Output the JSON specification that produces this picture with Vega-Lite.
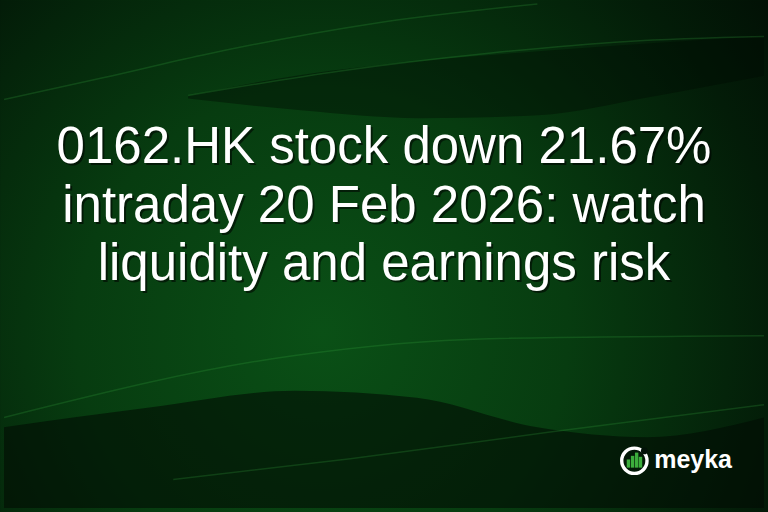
{
  "$schema": "https://vega.github.io/schema/vega-lite/v6.json",
  "width": 768,
  "height": 512,
  "autosize": {"type": "fit", "contains": "padding"},
  "padding": 0,
  "background": "#021006",
  "config": {"view": {"stroke": null, "fill": null}, "axis": {"disable": true}},
  "datasets": {
    "wedge": [
      {"x": 186, "yt": 93, "yb": 96},
      {"x": 300, "yt": 72, "yb": 108},
      {"x": 420, "yt": 58, "yb": 116},
      {"x": 540, "yt": 48, "yb": 113},
      {"x": 650, "yt": 40, "yb": 95},
      {"x": 768, "yt": 33, "yb": 73}
    ],
    "swoosh": [
      {"x": 0, "yt": 430, "yb": 512},
      {"x": 147, "yt": 410, "yb": 512},
      {"x": 294, "yt": 393, "yb": 512},
      {"x": 417, "yt": 400, "yb": 512},
      {"x": 539, "yt": 430, "yb": 512},
      {"x": 650, "yt": 440, "yb": 512},
      {"x": 768, "yt": 420, "yb": 512}
    ],
    "lines": [
      {"s": "a", "x": 0, "y": 97},
      {"s": "a", "x": 100, "y": 75},
      {"s": "a", "x": 200, "y": 52},
      {"s": "a", "x": 372, "y": 20},
      {"s": "a", "x": 539, "y": 0},
      {"s": "b", "x": 186, "y": 93},
      {"s": "b", "x": 340, "y": 68},
      {"s": "b", "x": 490, "y": 50},
      {"s": "b", "x": 630, "y": 38},
      {"s": "b", "x": 768, "y": 33},
      {"s": "c", "x": 171, "y": 483},
      {"s": "c", "x": 350, "y": 462},
      {"s": "c", "x": 550, "y": 435},
      {"s": "c", "x": 768, "y": 407},
      {"s": "d", "x": 0, "y": 420},
      {"s": "d", "x": 294, "y": 357},
      {"s": "d", "x": 490, "y": 340},
      {"s": "d", "x": 768, "y": 337}
    ],
    "title": [
      {"line": "0162.HK stock down 21.67%", "x": 384, "y": 162},
      {"line": "intraday 20 Feb 2026: watch", "x": 384, "y": 221},
      {"line": "liquidity and earnings risk", "x": 384, "y": 280}
    ],
    "bars": [
      {"x": 631, "top": 462.7, "bot": 471},
      {"x": 635.2, "top": 459, "bot": 471},
      {"x": 639.3, "top": 455.7, "bot": 471},
      {"x": 643.2, "top": 460, "bot": 471}
    ]
  },
  "layer": [
    {
      "data": {"values": [{}]},
      "mark": {
        "type": "rect",
        "strokeWidth": 0,
        "fill": {
          "gradient": "radial",
          "x1": 0.42, "y1": 0.6, "r1": 0,
          "x2": 0.42, "y2": 0.6, "r2": 0.8,
          "stops": [
            {"offset": 0, "color": "#0a5016"},
            {"offset": 0.4, "color": "#073c10"},
            {"offset": 0.75, "color": "#031c08"},
            {"offset": 1, "color": "#010a03"}
          ]
        }
      },
      "encoding": {
        "x": {"datum": -4, "type": "quantitative", "scale": {"domain": [0, 768], "nice": false, "zero": false}, "axis": null},
        "x2": {"datum": 772},
        "y": {"datum": -4, "type": "quantitative", "scale": {"domain": [0, 512], "nice": false, "zero": false, "reverse": true}, "axis": null},
        "y2": {"datum": 516}
      }
    },
    {
      "data": {"name": "wedge"},
      "mark": {"type": "area", "color": "#010b03", "opacity": 0.4, "interpolate": "monotone"},
      "encoding": {
        "x": {"field": "x", "type": "quantitative", "axis": null},
        "y": {"field": "yt", "type": "quantitative", "axis": null},
        "y2": {"field": "yb"}
      }
    },
    {
      "data": {"name": "swoosh"},
      "mark": {"type": "area", "color": "#010b03", "opacity": 0.6, "interpolate": "monotone"},
      "encoding": {
        "x": {"field": "x", "type": "quantitative", "axis": null},
        "y": {"field": "yt", "type": "quantitative", "axis": null},
        "y2": {"field": "yb"}
      }
    },
    {
      "data": {"name": "lines"},
      "mark": {"type": "line", "color": "#3cb043", "opacity": 0.22, "strokeWidth": 1.5, "interpolate": "monotone"},
      "encoding": {
        "x": {"field": "x", "type": "quantitative", "axis": null},
        "y": {"field": "y", "type": "quantitative", "axis": null},
        "detail": {"field": "s"}
      }
    },
    {
      "data": {"name": "title"},
      "mark": {"type": "text", "font": "Liberation Sans", "fontSize": 51, "align": "center", "baseline": "alphabetic", "color": "#000000", "opacity": 0.55, "dx": 2, "dy": 2},
      "encoding": {
        "x": {"field": "x", "type": "quantitative", "axis": null},
        "y": {"field": "y", "type": "quantitative", "axis": null},
        "text": {"field": "line"}
      }
    },
    {
      "data": {"name": "title"},
      "mark": {"type": "text", "font": "Liberation Sans", "fontSize": 51, "align": "center", "baseline": "alphabetic", "color": "#ffffff"},
      "encoding": {
        "x": {"field": "x", "type": "quantitative", "axis": null},
        "y": {"field": "y", "type": "quantitative", "axis": null},
        "text": {"field": "line"}
      }
    },
    {
      "data": {"name": "bars"},
      "mark": {"type": "rule", "color": "#3cae3c", "strokeWidth": 3.4},
      "encoding": {
        "x": {"field": "x", "type": "quantitative", "axis": null},
        "y": {"field": "top", "type": "quantitative", "axis": null},
        "y2": {"field": "bot"}
      }
    },
    {
      "data": {"values": [{"cx": 637, "cy": 464}]},
      "mark": {"type": "point", "shape": "circle", "filled": false, "stroke": "#ffffff", "strokeWidth": 3.4, "size": 640, "opacity": 1},
      "encoding": {
        "x": {"field": "cx", "type": "quantitative", "axis": null},
        "y": {"field": "cy", "type": "quantitative", "axis": null}
      }
    },
    {
      "data": {"values": [{"cx": 647, "cy": 454}]},
      "mark": {"type": "point", "shape": "circle", "filled": true, "color": "#021208", "size": 45, "opacity": 1},
      "encoding": {
        "x": {"field": "cx", "type": "quantitative", "axis": null},
        "y": {"field": "cy", "type": "quantitative", "axis": null}
      }
    },
    {
      "data": {"values": [{"t": "meyka", "x": 657, "y": 471}]},
      "mark": {"type": "text", "font": "Liberation Sans", "fontWeight": "bold", "fontSize": 25, "align": "left", "baseline": "alphabetic", "color": "#ffffff"},
      "encoding": {
        "x": {"field": "x", "type": "quantitative", "axis": null},
        "y": {"field": "y", "type": "quantitative", "axis": null},
        "text": {"field": "t"}
      }
    }
  ]
}
